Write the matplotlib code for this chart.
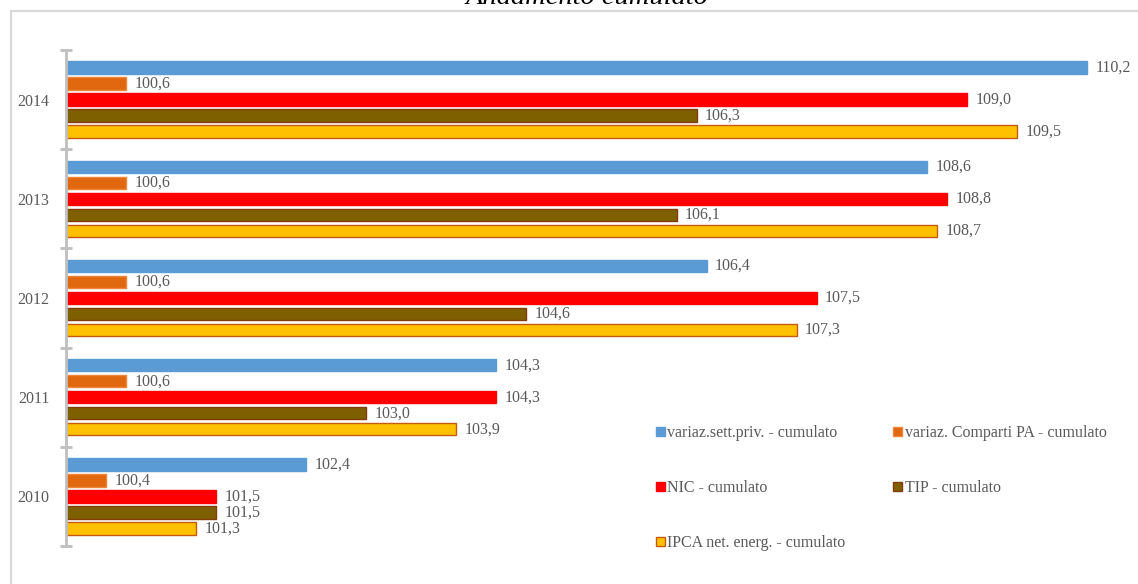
import matplotlib.pyplot as plt
import matplotlib.patches as mpatches
import numpy as np

# data
years = ["2010", "2011", "2012", "2013", "2014"]
sett_priv = [102.4, 104.3, 106.4, 108.6, 110.2]
comparti_pa = [100.4, 100.6, 100.6, 100.6, 100.6]
nic = [101.5, 104.3, 107.5, 108.8, 109.0]
tip = [101.5, 103.0, 104.6, 106.1, 106.3]
ipca = [101.3, 103.9, 107.3, 108.7, 109.5]

series_names = ["variaz.sett.priv. - cumulato", "variaz. Comparti PA - cumulato",
                "NIC - cumulato", "TIP - cumulato", "IPCA net. energ. - cumulato"]
fills = ["#5B9BD5", "#E2680F", "#FF0000", "#7F6000", "#FFC000"]
edges = ["#5B9BD5", "#F08439", "#FF0000", "#843C0C", "#C55A11"]
txt = "#595959"

plt.rcParams['font.family'] = ['Liberation Serif', 'DejaVu Serif']

W, H = 1138, 584
fig = plt.figure(figsize=(W / 100, H / 100), dpi=100)

# axes placed in pixel terms
left, right, top, bottom = 66, 1117, 50, 546
ax = fig.add_axes([left / W, 1 - bottom / H, (right - left) / W, (bottom - top) / H])

# outer chart border (runs off the right and bottom edges)
fig.patches.append(mpatches.Rectangle((11 / W, -0.05), 1.2, 1 - 11 / H + 0.05,
                                      transform=fig.transFigure, fill=False,
                                      edgecolor="#D9D9D9", linewidth=1.6))

# title sits mostly above the canvas, as in the source
fig.text(0.516, 1 - 4 / H, "Andamento cumulato", ha="center", va="baseline",
         fontsize=20.5, style="italic", color="black")

y = np.arange(len(years))
step = 0.161
bh = 0.125
all_series = [sett_priv, comparti_pa, nic, tip, ipca]
base = 100.0
handles = []
for k, vals in enumerate(all_series):
    vals = np.array(vals)
    off = (2 - k) * step
    bars = ax.barh(y + off, vals - base, height=bh, left=base, color=fills[k],
                   edgecolor=edges[k], linewidth=1.0, label=series_names[k])
    ax.bar_label(bars, labels=[f"{v:.1f}".replace(".", ",") for v in vals],
                 padding=6, fontsize=11.5, color=txt)
    handles.append(bars)

ax.set_xlim(100, 110.5)
ax.set_ylim(-0.5, 4.5)

for s in ["top", "right", "bottom"]:
    ax.spines[s].set_visible(False)
ax.spines["left"].set_color("#BFBFBF")
ax.spines["left"].set_linewidth(2)
ax.set_xticks([])

ax.set_yticks(np.arange(-0.5, 5, 1.0))
ax.set_yticklabels([])
ax.tick_params(axis="y", which="major", direction="inout", length=9, width=2, color="#BFBFBF")
ax.set_yticks(y, minor=True)
ax.set_yticklabels(years, minor=True)
ax.tick_params(axis="y", which="minor", length=0, pad=12, labelsize=11.5, labelcolor=txt)

# legend filled row by row: reorder for matplotlib's column-wise layout
order = [0, 2, 4, 1, 3]
leg = ax.legend([handles[i] for i in order], [series_names[i] for i in order],
                loc="upper left", bbox_to_anchor=(656 / W, 1 - 425 / H),
                bbox_transform=fig.transFigure, ncol=2, frameon=False,
                fontsize=11.5, labelcolor=txt, handlelength=0.55, handleheight=0.55,
                handletextpad=0.15, labelspacing=2.45, columnspacing=3.0,
                borderpad=0, borderaxespad=0)

fig.savefig("out.png", dpi=100)
